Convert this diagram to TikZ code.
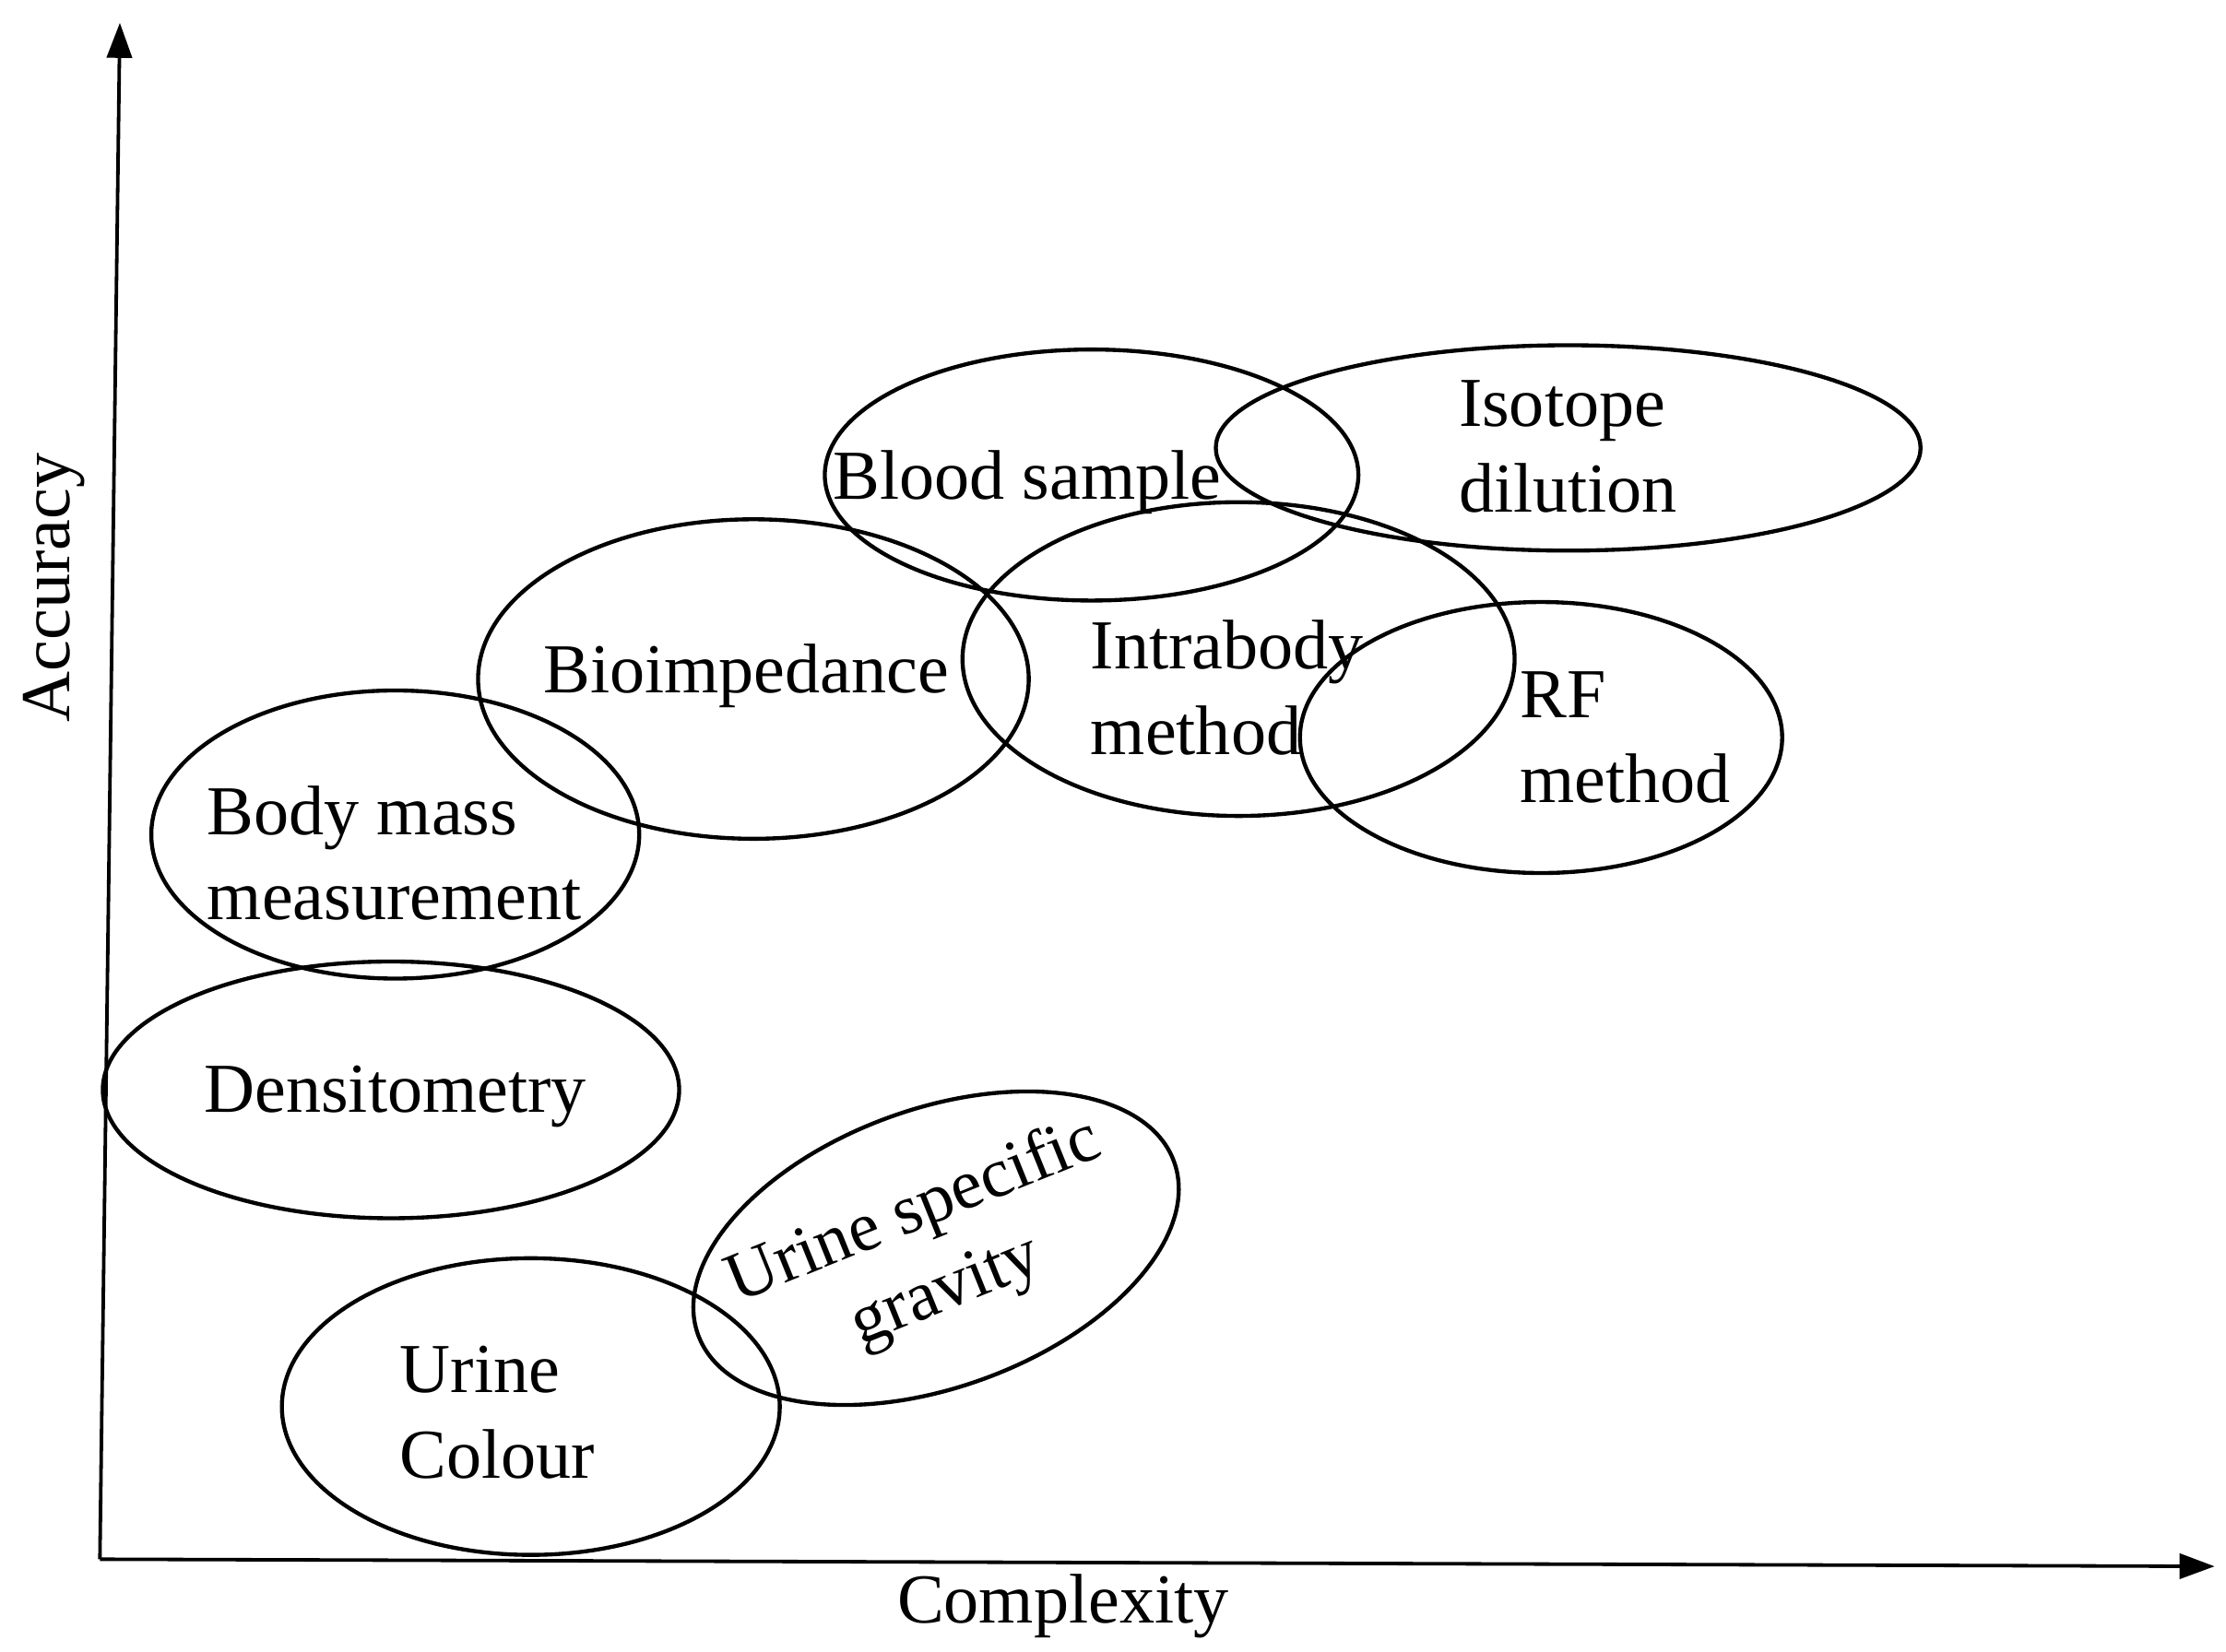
\documentclass[tikz,border=0pt]{standalone}
\usepackage{fontspec}
\setmainfont{Liberation Serif}
\usetikzlibrary{shapes.geometric,arrows.meta}
\begin{document}
\begin{tikzpicture}[x=0.02cm,y=-0.02cm,
  ell/.style={draw,ellipse,line width=1.6pt,inner sep=0pt},
  lbl/.style={font=\fontsize{28}{34}\selectfont,align=left,inner sep=0pt},
  ax/.style={line width=1.4pt,-{Triangle[length=14pt,width=10pt]}}]
\useasboundingbox (0,0) rectangle (1560,1158);
\coordinate (o) at (70,1093);
\coordinate (ytop) at (84,16);
\coordinate (xend) at (1552,1098);
\draw[ax] (o) -- (ytop);
\draw[ax] (o) -- (xend);
\node[lbl,rotate=90] (acc) at (38,412) {Accuracy};
\node[lbl] (cx) at (745,1126) {Complexity};
\node[ell,minimum width=7.48cm,minimum height=3.52cm] (e1) at (765,333) {};
\node[ell,minimum width=9.88cm,minimum height=2.88cm] (e2) at (1099,314) {};
\node[ell,minimum width=7.72cm,minimum height=4.48cm] (e3) at (528,476) {};
\node[ell,minimum width=7.74cm,minimum height=4.4cm] (e4) at (868,462) {};
\node[ell,minimum width=6.76cm,minimum height=3.8cm] (e5) at (1080,517) {};
\node[ell,minimum width=6.84cm,minimum height=4.04cm] (e6) at (277,585) {};
\node[ell,minimum width=8.08cm,minimum height=3.6cm] (e7) at (274,764) {};
\node[ell,minimum width=7.1cm,minimum height=3.9cm,rotate=20] (e8) at (656,875) {};
\node[ell,minimum width=6.98cm,minimum height=4.16cm] (e9) at (372,986) {};
\node[lbl] (t1) at (720,338) {Blood sample};
\node[lbl,anchor=west] (t2) at (1022,313) {Isotope\\dilution};
\node[lbl] (t3) at (523,474) {Bioimpedance};
\node[lbl,anchor=west] (t4) at (764,482) {Intrabody\\method};
\node[lbl,anchor=west] (t5) at (1065,517) {RF\\method};
\node[lbl,anchor=west] (t6) at (145,598) {Body mass\\measurement};
\node[lbl] (t7) at (277,769) {Densitometry};
\node[lbl,align=center,rotate=22] (t8) at (652,878) {Urine specific\\gravity};
\node[lbl,anchor=west] (t9) at (280,990) {Urine\\Colour};
\end{tikzpicture}
\end{document}
